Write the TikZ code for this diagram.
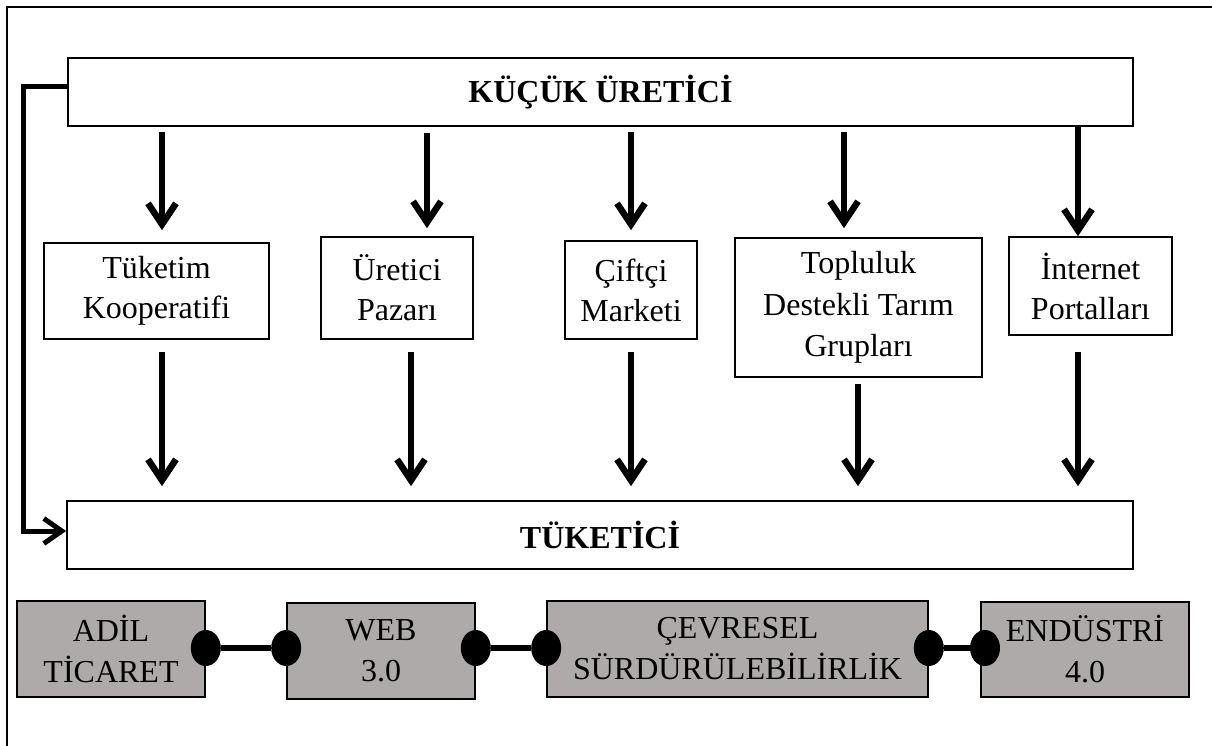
\documentclass[tikz,border=0pt]{standalone}
\usepackage{fontspec}
\setmainfont{Liberation Serif}
\usetikzlibrary{arrows.meta,shapes.geometric,calc}
\definecolor{boxgray}{HTML}{AEAAAA}
\begin{document}
\begin{tikzpicture}[x=1pt,y=-1pt,
  wbox/.style={draw=black,line width=1.6pt,fill=white,inner sep=0pt,align=center,
    font=\fontsize{32}{40}\selectfont},
  hbox/.style={wbox,font=\fontsize{32}{40}\selectfont\bfseries},
  gbox/.style={draw=black,line width=1.6pt,fill=boxgray,inner sep=0pt,align=center,
    font=\fontsize{32}{41}\selectfont},
  arr/.style={line width=6.5pt,-{Straight Barb[length=21pt,width=28pt]}},
  lconn/.style={line width=5pt,-{Straight Barb[length=18pt,width=25pt]}},
  dot/.style={ellipse,fill=black,draw=none,minimum width=30pt,minimum height=36pt,inner sep=0pt},
  link/.style={line width=6pt},
  frame/.style={line width=1.6pt}]
\useasboundingbox (0,0) rectangle (1212,746);
\draw[frame] (7,746) -- (7,7) -- (1212,7);

% top and bottom boxes
\node[hbox,minimum width=1065pt,minimum height=68pt] (k) at (600.5,92) {KÜÇÜK ÜRETİCİ};
\node[hbox,minimum width=1066pt,minimum height=68pt] (c) at (600,535) {TÜKETİCİ};

% middle boxes
\node[wbox,minimum width=225pt,minimum height=96pt] (t1) at (156.5,291) {Tüketim\\Kooperatifi};
\node[wbox,minimum width=152pt,minimum height=102pt] (t2) at (397,288) {Üretici\\Pazarı};
\node[wbox,minimum width=132pt,minimum height=98pt] (t3) at (631,290) {Çiftçi\\Marketi};
\node[wbox,minimum width=247pt,minimum height=139pt,font=\fontsize{32}{41.5}\selectfont] (t4) at (858.5,307.5) {Topluluk\\Destekli Tarım\\Grupları};
\node[wbox,minimum width=163pt,minimum height=98pt] (t5) at (1090.5,286) {İnternet\\Portalları};

% arrow x positions
\coordinate (a1) at (162,0);
\coordinate (a2) at (427,0);
\coordinate (a3) at (631,0);
\coordinate (a4) at (844,0);
\coordinate (a5) at (1078,0);
\coordinate (b1) at (162,0);
\coordinate (b2) at (411,0);
\coordinate (b3) at (631,0);
\coordinate (b4) at (858,0);
\coordinate (b5) at (1078,0);

\draw[arr,shorten <=5pt,shorten >=12pt] (a1 |- k.south) -- (a1 |- t1.north);
\draw[arr,shorten <=6pt,shorten >=8pt] (a2 |- k.south) -- (a2 |- t2.north);
\draw[arr,shorten <=5pt,shorten >=10pt] (a3 |- k.south) -- (a3 |- t3.north);
\draw[arr,shorten <=5pt,shorten >=9pt] (a4 |- k.south) -- (a4 |- t4.north);
\draw[arr,shorten <=0pt,shorten >=0pt] (a5 |- k.south) -- (a5 |- t5.north);

\draw[arr,shorten <=12pt,shorten >=14pt] (b1 |- t1.south) -- (b1 |- c.north);
\draw[arr,shorten <=12pt,shorten >=14pt] (b2 |- t2.south) -- (b2 |- c.north);
\draw[arr,shorten <=12pt,shorten >=14pt] (b3 |- t3.south) -- (b3 |- c.north);
\draw[arr,shorten <=6pt,shorten >=14pt] (b4 |- t4.south) -- (b4 |- c.north);
\draw[arr,shorten <=16pt,shorten >=14pt] (b5 |- t5.south) -- (b5 |- c.north);

% left connector
\coordinate (lc) at (23,0);
\coordinate (ks) at ([yshift=5pt]k.west);
\coordinate (ce) at ([yshift=4pt]c.west);
\draw[lconn] (ks) -| (lc |- ce) -- (ce);

% bottom gray boxes
\node[gbox,minimum width=188pt,minimum height=96pt] (g1) at (111,649) {ADİL\\TİCARET};
\node[gbox,minimum width=188pt,minimum height=96pt] (g2) at (381,651) {WEB\\3.0};
\node[gbox,minimum width=381pt,minimum height=96pt] (g3) at (737.5,649) {ÇEVRESEL\\SÜRDÜRÜLEBİLİRLİK};
\node[gbox,minimum width=208pt,minimum height=95pt] (g4) at (1085,649.5) {ENDÜSTRİ\\4.0};

\node[dot] (d1) at (g1.east |- 0,648) {};
\node[dot] (d2) at (g2.west |- 0,648) {};
\node[dot] (d3) at (g2.east |- 0,648) {};
\node[dot] (d4) at (g3.west |- 0,648) {};
\node[dot] (d5) at (g3.east |- 0,648) {};
\node[dot] (d6) at (985,648) {};
\draw[link] (d1) -- (d2);
\draw[link] (d3) -- (d4);
\draw[link] (d5) -- (d6);
\end{tikzpicture}
\end{document}
